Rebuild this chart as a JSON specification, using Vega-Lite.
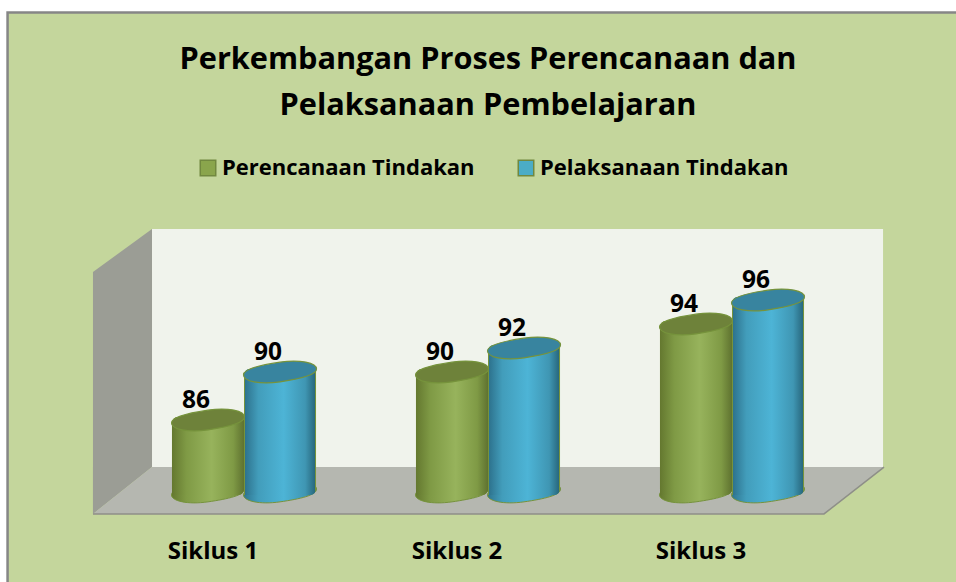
{
"$schema":"https://vega.github.io/schema/vega-lite/v6.json",
"width":956,"height":582,"padding":0,"autosize":"none","background":"#ffffff",
"config":{"view":{"stroke":null}},
"title":{"text":["Perkembangan Proses Perencanaan dan","Pelaksanaan Pembelajaran"],"font":"Open Sans","fontSize":30.7,"fontWeight":"bold","color":"#000000","lineHeight":46,"anchor":"middle","frame":"group","dx":10,"offset":-122},
"resolve":{"scale":{"x":"independent"}},
"layer":[
{"data":{"values":[{"u":-0.35,"u2":3.7,"v":119.96,"v2":70}]},
 "mark":{"type":"rect","fill":"#C4D69C","stroke":"#868686","strokeWidth":2.5},
 "encoding":{"x":{"field":"u","type":"quantitative","axis":null,"scale":{"domain":[-0.381,3.537],"nice":false,"zero":false}},"x2":{"field":"u2"},
 "y":{"field":"v","type":"quantitative","axis":null,"scale":{"domain":[72.5,121],"nice":false,"zero":false}},"y2":{"field":"v2"}}},
{"data":{"values":[{"u":0.242,"u2":3.238,"v":101.92,"v2":82.08}]},
 "mark":{"type":"rect","fill":"#F0F3EC"},
 "encoding":{"x":{"field":"u","type":"quantitative","axis":null,"scale":{"domain":[-0.381,3.537],"nice":false,"zero":false}},"x2":{"field":"u2"},
 "y":{"field":"v","type":"quantitative","axis":null,"scale":{"domain":[72.5,121],"nice":false,"zero":false}},"y2":{"field":"v2"}}},
{"data":{"values":[{"u":0,"t":98.33,"b":78.17},{"u":0.242,"t":101.92,"b":82.08}]},
 "mark":{"type":"area","orient":"vertical","fill":"#9B9D95"},
 "encoding":{"x":{"field":"u","type":"quantitative","axis":null,"scale":{"domain":[-0.381,3.537],"nice":false,"zero":false}},
 "y":{"field":"t","type":"quantitative","axis":null,"scale":{"domain":[72.5,121],"nice":false,"zero":false}},"y2":{"field":"b"}}},
{"data":{"values":[{"u":0,"t":78.17,"b":78.17},{"u":0.242,"t":82.08,"b":78.17},{"u":2.996,"t":82.08,"b":78.17},{"u":3.242,"t":82.08,"b":82.08}]},
 "mark":{"type":"area","orient":"vertical","fill":"#B5B7B0"},
 "encoding":{"x":{"field":"u","type":"quantitative","axis":null,"scale":{"domain":[-0.381,3.537],"nice":false,"zero":false}},
 "y":{"field":"t","type":"quantitative","axis":null,"scale":{"domain":[72.5,121],"nice":false,"zero":false}},"y2":{"field":"b"}}},
{"data":{"values":[{"u":0,"v":78.17},{"u":2.996,"v":78.17},{"u":3.242,"v":82.08}]},
 "mark":{"type":"line","stroke":"#8E8F88","strokeWidth":1.5},
 "encoding":{"x":{"field":"u","type":"quantitative","axis":null,"scale":{"domain":[-0.381,3.537],"nice":false,"zero":false}},
 "y":{"field":"v","type":"quantitative","axis":null,"scale":{"domain":[72.5,121],"nice":false,"zero":false}}}},
{"data":{"values":[
 {"siklus":"Siklus 1","seri":"Perencanaan Tindakan","nilai":86},
 {"siklus":"Siklus 1","seri":"Pelaksanaan Tindakan","nilai":90},
 {"siklus":"Siklus 2","seri":"Perencanaan Tindakan","nilai":90},
 {"siklus":"Siklus 2","seri":"Pelaksanaan Tindakan","nilai":92},
 {"siklus":"Siklus 3","seri":"Perencanaan Tindakan","nilai":94},
 {"siklus":"Siklus 3","seri":"Pelaksanaan Tindakan","nilai":96}]},
 "encoding":{
  "x":{"field":"siklus","type":"nominal","title":null,"scale":{"range":[122,854],"paddingInner":0,"paddingOuter":0},
   "axis":{"zindex":1,"domain":false,"ticks":false,"labelAngle":0,"labelFont":"Open Sans","labelFontWeight":"bold","labelFontSize":24,"labelColor":"#000000","labelOffset":-31,"offset":-43,"labelPadding":0,"labelBaseline":"top","grid":false}},
  "xOffset":{"field":"seri","type":"nominal","scale":{"domain":["Perencanaan Tindakan","Pelaksanaan Tindakan"],"paddingInner":0,"paddingOuter":0.694}}
 },
 "resolve":{"scale":{"color":"independent"}},
 "layer":[
 {"mark":{"type":"bar","yOffset":-3,"y2Offset":3,"cornerRadiusTopLeft":6,"cornerRadiusBottomRight":6,"strokeWidth":0},
  "encoding":{"y":{"field":"nilai","type":"quantitative","axis":null,"scale":{"domain":[72.5,121],"nice":false,"zero":false}},"y2":{"datum":80},
   "color":{"field":"seri","type":"nominal","scale":{"domain":["Perencanaan Tindakan","Pelaksanaan Tindakan"],"range":["#8AA54C","#4BACC6"]},
    "legend":{"title":null,"orient":"none","legendX":197,"legendY":157,"direction":"horizontal","columns":2,"columnPadding":40,"symbolType":"square","symbolSize":240,"symbolStrokeColor":"#71883F","symbolStrokeWidth":1.5,"labelFont":"Open Sans","labelFontWeight":"bold","labelFontSize":22,"labelColor":"#000000","labelLimit":400,"labelOffset":3}}}},
 {"transform":[{"filter":"datum.seri==='Perencanaan Tindakan'"}],
  "mark":{"type":"point","filled":true,"opacity":1,"size":5329,"stroke":"#76933C","strokeWidth":1,"shape":"M-1,0.08C-1,-0.09,-0.552,-0.19,0,-0.27C0.552,-0.35,1,-0.25,1,-0.08C1,0.09,0.552,0.19,0,0.27C-0.552,0.35,-1,0.25,-1,0.08Z",
   "fill":{"gradient":"linear","x1":0,"x2":1,"y1":0,"y2":0,"stops":[{"offset":0,"color":"#64782F"},{"offset":0.2,"color":"#7F9A45"},{"offset":0.55,"color":"#97B35C"},{"offset":0.85,"color":"#7F9A45"},{"offset":1,"color":"#5F7230"}]}},
  "encoding":{"y":{"datum":80,"type":"quantitative","axis":null,"scale":{"domain":[72.5,121],"nice":false,"zero":false}}}},
 {"transform":[{"filter":"datum.seri==='Perencanaan Tindakan'"}],
  "mark":{"type":"bar","yOffset":-3,"y2Offset":3,"cornerRadiusTopLeft":6,"cornerRadiusBottomRight":6,
   "fill":{"gradient":"linear","x1":0,"x2":1,"y1":0,"y2":0,"stops":[{"offset":0,"color":"#64782F"},{"offset":0.2,"color":"#7F9A45"},{"offset":0.55,"color":"#97B35C"},{"offset":0.85,"color":"#7F9A45"},{"offset":1,"color":"#5F7230"}]}},
  "encoding":{"y":{"field":"nilai","type":"quantitative","axis":null,"scale":{"domain":[72.5,121],"nice":false,"zero":false}},"y2":{"datum":80}}},
 {"transform":[{"filter":"datum.seri==='Pelaksanaan Tindakan'"}],
  "mark":{"type":"point","filled":true,"opacity":1,"size":5329,"stroke":"#76933C","strokeWidth":1,"shape":"M-1,0.08C-1,-0.09,-0.552,-0.19,0,-0.27C0.552,-0.35,1,-0.25,1,-0.08C1,0.09,0.552,0.19,0,0.27C-0.552,0.35,-1,0.25,-1,0.08Z",
   "fill":{"gradient":"linear","x1":0,"x2":1,"y1":0,"y2":0,"stops":[{"offset":0,"color":"#2E748F"},{"offset":0.2,"color":"#429DBB"},{"offset":0.55,"color":"#4DB4D6"},{"offset":0.85,"color":"#3F96B3"},{"offset":1,"color":"#296A80"}]}},
  "encoding":{"y":{"datum":80,"type":"quantitative","axis":null,"scale":{"domain":[72.5,121],"nice":false,"zero":false}}}},
 {"transform":[{"filter":"datum.seri==='Pelaksanaan Tindakan'"}],
  "mark":{"type":"bar","yOffset":-3,"y2Offset":3,"cornerRadiusTopLeft":6,"cornerRadiusBottomRight":6,
   "fill":{"gradient":"linear","x1":0,"x2":1,"y1":0,"y2":0,"stops":[{"offset":0,"color":"#76933C"},{"offset":0.012,"color":"#76933C"},{"offset":0.02,"color":"#2E748F"},{"offset":0.2,"color":"#429DBB"},{"offset":0.55,"color":"#4DB4D6"},{"offset":0.85,"color":"#3F96B3"},{"offset":0.98,"color":"#296A80"},{"offset":0.988,"color":"#76933C"},{"offset":1,"color":"#76933C"}]}},
  "encoding":{"y":{"field":"nilai","type":"quantitative","axis":null,"scale":{"domain":[72.5,121],"nice":false,"zero":false}},"y2":{"datum":80}}},
 {"mark":{"type":"point","filled":true,"opacity":1,"size":5329,"stroke":"#76933C","strokeWidth":1.2,"shape":"M-1,0.08C-1,-0.09,-0.552,-0.19,0,-0.27C0.552,-0.35,1,-0.25,1,-0.08C1,0.09,0.552,0.19,0,0.27C-0.552,0.35,-1,0.25,-1,0.08Z"},
  "encoding":{"y":{"field":"nilai","type":"quantitative","axis":null,"scale":{"domain":[72.5,121],"nice":false,"zero":false}},
   "color":{"field":"seri","type":"nominal","legend":null,"scale":{"domain":["Perencanaan Tindakan","Pelaksanaan Tindakan"],"range":["#6E823A","#38849F"]}}}},
 {"mark":{"type":"text","font":"Open Sans","fontWeight":"bold","fontSize":24.5,"color":"#000000","dx":-12,"dy":-19,"baseline":"middle"},
  "encoding":{"y":{"field":"nilai","type":"quantitative","axis":null,"scale":{"domain":[72.5,121],"nice":false,"zero":false}},"text":{"field":"nilai","type":"quantitative"}}}
 ]}
]}
